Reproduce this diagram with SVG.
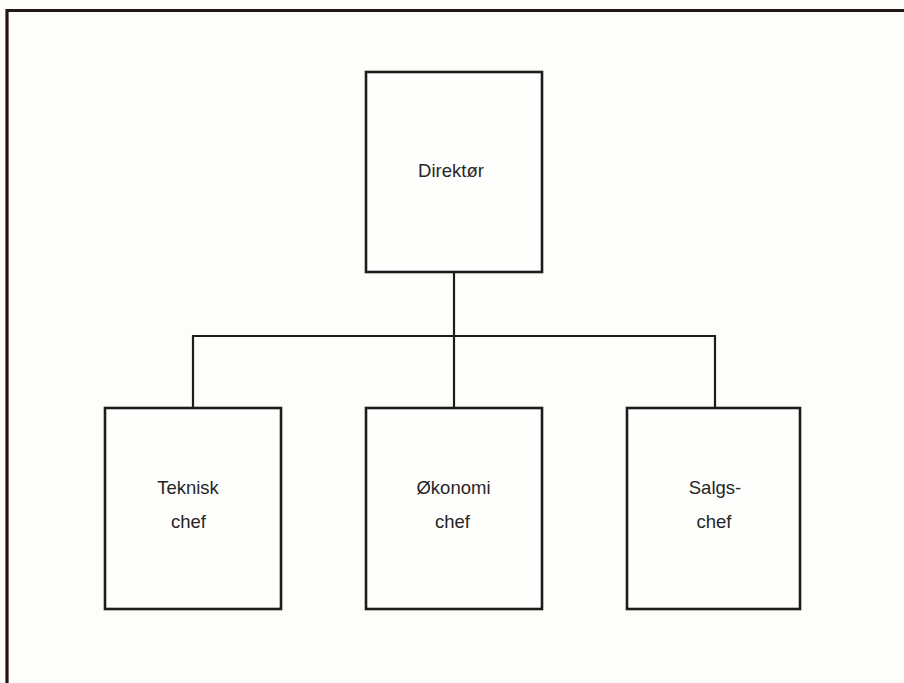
<svg xmlns="http://www.w3.org/2000/svg" width="904" height="683" viewBox="0 0 904 683">
<style>
.box{fill:#fefefc;stroke:#1c1c1c;stroke-width:2.6}
.ln{fill:none;stroke:#1c1c1c;stroke-width:2.2}
.frame{fill:none;stroke:#221717;stroke-width:3.2}
text{font-family:"Liberation Sans",Arial,sans-serif;font-size:18.5px;fill:#262626;text-anchor:middle}
</style>
<rect width="904" height="683" fill="#fdfdf9"/>
<g id="frame">
<path class="frame" d="M7 683 V10.5 H904"/>
</g>
<g id="connectors">
<path class="ln" d="M454 272 V336"/>
<path class="ln" d="M193 408 V336 H715 V408"/>
<path class="ln" d="M454 336 V408"/>
</g>
<g id="direktor">
<rect class="box" x="366" y="72" width="176" height="200"/>
<text x="451" y="177">Direktør</text>
</g>
<g id="teknisk">
<rect class="box" x="105" y="408" width="176" height="201"/>
<text x="188" y="494">Teknisk</text>
<text x="188.5" y="528">chef</text>
</g>
<g id="okonomi">
<rect class="box" x="366" y="408" width="176" height="201"/>
<text x="453.5" y="494">Økonomi</text>
<text x="452.5" y="528">chef</text>
</g>
<g id="salgs">
<rect class="box" x="627" y="408" width="173" height="201"/>
<text x="715" y="494">Salgs-</text>
<text x="714" y="528">chef</text>
</g>
</svg>
